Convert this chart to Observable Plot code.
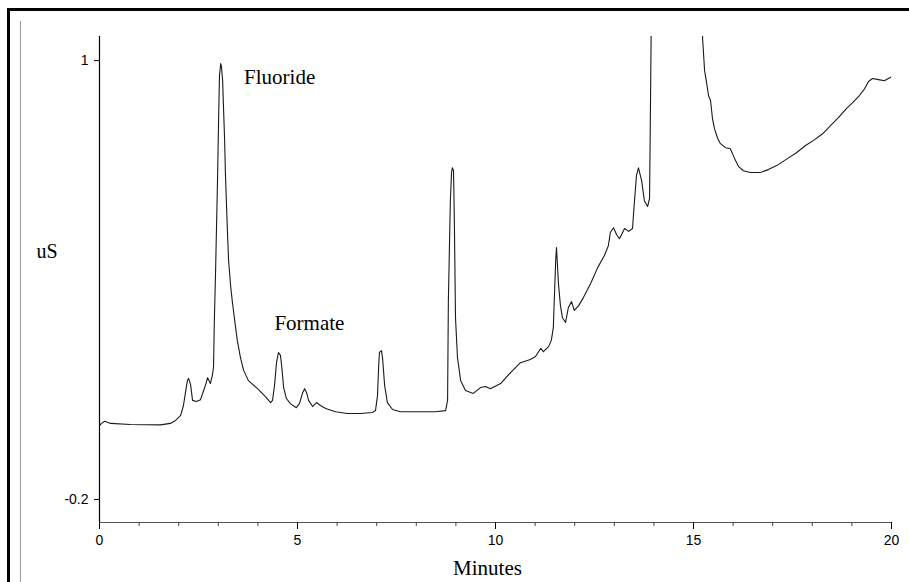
<!DOCTYPE html>
<html>
<head>
<meta charset="utf-8">
<script src="https://cdn.jsdelivr.net/npm/d3@7"></script>
<script src="https://cdn.jsdelivr.net/npm/@observablehq/plot@0.6"></script>
<style>
  html, body { margin: 0; padding: 0; background: #fff; }
  #wrap { position: relative; width: 909px; height: 582px; overflow: hidden; }
  #frameTop { position: absolute; left: 7px; top: 8px; width: 902px; height: 3px; background: #000; }
  #frameLeft { position: absolute; left: 7px; top: 8px; width: 3px; height: 574px; background: #000; }
  #innerLine { position: absolute; left: 20px; top: 21px; width: 1px; height: 561px; background: #999; }
  #chart { position: absolute; left: 0; top: 0; }
</style>
</head>
<body>
<div id="wrap">
  <div id="chart"></div>
  <div id="frameTop"></div>
  <div id="frameLeft"></div>
  <div id="innerLine"></div>
</div>
<script>
// Retention time (minutes)
const minutes = [
  0, 0.05, 0.13, 0.28, 0.78, 1.54, 1.79, 1.92, 2.05, 2.12, 2.17, 2.22, 2.25, 2.30, 2.35, 2.45, 2.55, 2.63, 2.68, 2.73,
  2.78, 2.80, 2.85, 2.88, 2.90, 2.93, 2.98, 3.01, 3.03, 3.06, 3.08, 3.11, 3.13, 3.16, 3.18, 3.23, 3.26, 3.31, 3.36, 3.43,
  3.48, 3.56, 3.64, 3.76, 3.99, 4.19, 4.32, 4.37, 4.42, 4.47, 4.52, 4.57, 4.60, 4.65, 4.72, 4.82, 4.97, 5.05, 5.13, 5.18,
  5.23, 5.28, 5.38, 5.48, 5.58, 5.71, 5.96, 6.26, 6.59, 6.89, 6.97, 7.02, 7.05, 7.07, 7.12, 7.15, 7.20, 7.27, 7.40, 7.60,
  8.11, 8.48, 8.74, 8.79, 8.81, 8.86, 8.89, 8.91, 8.94, 8.96, 8.99, 9.04, 9.12, 9.24, 9.44, 9.62, 9.75, 9.87, 10.13, 10.38,
  10.63, 10.88, 11.01, 11.14, 11.21, 11.34, 11.41, 11.46, 11.52, 11.54, 11.59, 11.64, 11.69, 11.77, 11.84, 11.92, 11.99, 12.10, 12.22, 12.40,
  12.58, 12.75, 12.85, 12.90, 12.98, 13.06, 13.13, 13.26, 13.36, 13.46, 13.51, 13.56, 13.61, 13.69, 13.76, 13.84, 13.89, 13.91, 13.93, 13.94,
  15.18, 15.23, 15.28, 15.33, 15.38, 15.43, 15.48, 15.53, 15.61, 15.68, 15.81, 15.93, 16.04, 16.14, 16.26, 16.44, 16.69, 16.89, 17.10, 17.37,
  17.60, 17.83, 18.06, 18.26, 18.46, 18.66, 18.86, 19.02, 19.17, 19.32, 19.42, 19.52, 19.67, 19.82, 19.92, 20.0
];
// Conductivity (uS)
const conductivity = [
  0.002, 0.008, 0.014, 0.008, 0.005, 0.004, 0.008, 0.016, 0.030, 0.057, 0.092, 0.125, 0.131, 0.114, 0.071, 0.068, 0.073, 0.098, 0.114, 0.133,
  0.122, 0.117, 0.139, 0.163, 0.289, 0.418, 0.672, 0.855, 0.959, 0.992, 0.984, 0.945, 0.877, 0.781, 0.691, 0.535, 0.453, 0.385, 0.336, 0.276,
  0.235, 0.188, 0.153, 0.125, 0.103, 0.081, 0.065, 0.071, 0.112, 0.174, 0.202, 0.194, 0.166, 0.106, 0.076, 0.062, 0.051, 0.062, 0.092, 0.103,
  0.092, 0.071, 0.054, 0.065, 0.057, 0.049, 0.040, 0.035, 0.035, 0.038, 0.043, 0.084, 0.166, 0.202, 0.207, 0.185, 0.112, 0.065, 0.046, 0.040,
  0.040, 0.040, 0.043, 0.071, 0.344, 0.617, 0.694, 0.707, 0.699, 0.571, 0.297, 0.188, 0.125, 0.098, 0.090, 0.106, 0.109, 0.103, 0.117, 0.147,
  0.174, 0.183, 0.191, 0.213, 0.204, 0.218, 0.235, 0.270, 0.453, 0.489, 0.390, 0.330, 0.297, 0.284, 0.325, 0.341, 0.317, 0.330, 0.352, 0.390,
  0.434, 0.467, 0.494, 0.530, 0.543, 0.524, 0.513, 0.541, 0.533, 0.541, 0.617, 0.686, 0.707, 0.672, 0.617, 0.601, 0.623, 0.836, 1.066, 1.30,
  1.30, 1.060, 0.973, 0.940, 0.904, 0.891, 0.841, 0.814, 0.787, 0.773, 0.762, 0.759, 0.732, 0.710, 0.699, 0.694, 0.694, 0.702, 0.713, 0.732,
  0.748, 0.768, 0.784, 0.800, 0.822, 0.844, 0.869, 0.885, 0.902, 0.923, 0.943, 0.951, 0.948, 0.945, 0.951, 0.956
];

const xMajorTicks = [0, 5, 10, 15, 20];
const xMinorTicks = [1, 2, 3, 4, 6, 7, 8, 9, 11, 12, 13, 14, 16, 17, 18, 19];
const yTicks = [1, -0.2];
const yTickLabels = ["1", "-0.2"];

const peakLabels = ["Fluoride", "Formate"];
const peakLabelX = [4.55, 5.30];
const peakLabelY = [0.955, 0.282];

const xDomain = [0, 20];
const yDomain = [-0.263, 1.066];

const trace = minutes.map((t, i) => ({t, v: conductivity[i]}));
const labels = peakLabels.map((name, i) => ({name, x: peakLabelX[i], y: peakLabelY[i]}));

const serif = "'Liberation Serif', 'Times New Roman', serif";
const sans = "'Liberation Sans', Arial, sans-serif";

const chart = Plot.plot({
  width: 909,
  height: 582,
  marginLeft: 99,
  marginRight: 18,
  marginTop: 36,
  marginBottom: 60,
  style: {background: "transparent", color: "#000", fontFamily: sans},
  x: {domain: xDomain},
  y: {domain: yDomain},
  marks: [
    Plot.ruleY([yDomain[0]], {x1: xDomain[0], x2: xDomain[1], stroke: "#555", strokeWidth: 1}),
    Plot.ruleX([xDomain[0]], {y1: yDomain[0], y2: yDomain[1], stroke: "#000", strokeWidth: 1.2}),
    Plot.axisX(xMajorTicks, {tickSize: 7, tickPadding: 6, fontSize: 14, fontFamily: sans, label: null, stroke: "#000"}),
    Plot.axisX(xMinorTicks, {tickSize: 4, text: null, label: null, stroke: "#444"}),
    Plot.axisY(yTicks, {tickSize: 5, tickPadding: 6, fontSize: 14, fontFamily: sans, label: null,
      tickFormat: (d) => yTickLabels[yTicks.indexOf(d)]}),
    Plot.line(trace, {x: "t", y: "v", stroke: "#1a1a1a", strokeWidth: 1.1, clip: true}),
    Plot.text(labels, {x: "x", y: "y", text: "name", fontSize: 21, fontFamily: serif, fill: "#000"}),
    Plot.text(["Minutes"], {frameAnchor: "bottom", dy: 52, dx: -8, fontSize: 21, fontFamily: serif, fill: "#000"}),
    Plot.text(["uS"], {frameAnchor: "left", dx: -63, dy: -28, fontSize: 20, fontFamily: serif, fill: "#000"})
  ]
});
document.getElementById("chart").appendChild(chart);
</script>
</body>
</html>
